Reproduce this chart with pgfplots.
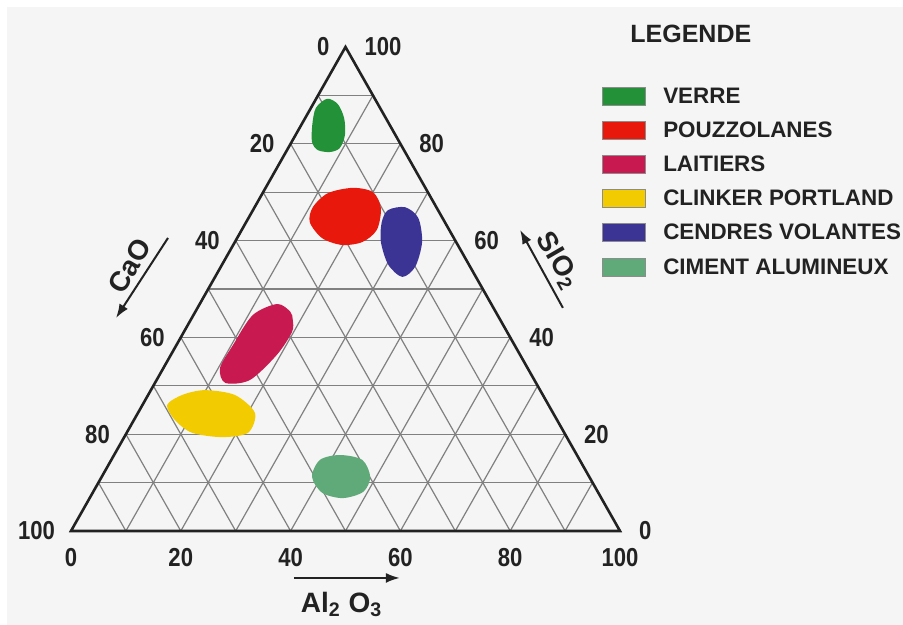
\documentclass[border=0pt]{standalone}
\usepackage{fontspec}
\setmainfont{Liberation Sans}
\newfontfamily\narrow[FakeStretch=0.85]{Liberation Sans}
\usepackage{pgfplots}
\pgfplotsset{compat=1.18}
\usetikzlibrary{arrows.meta}

\definecolor{verre}{HTML}{239138}
\definecolor{pouzz}{HTML}{E8180C}
\definecolor{laitier}{HTML}{C81A50}
\definecolor{clinker}{HTML}{F2CC00}
\definecolor{cendres}{HTML}{3C3494}
\definecolor{ciment}{HTML}{5FAA78}
\definecolor{bg}{HTML}{F5F5F5}
\definecolor{txt}{HTML}{222222}

\newcommand\lab{\bfseries\fontsize{11.2}{13}\selectfont}
\newcommand\ticklab{\narrow\bfseries\fontsize{13}{15}\selectfont}
\newcommand\biglab{\bfseries\fontsize{14}{16}\selectfont}

% blobs are given as (Al2O3, SiO2) in %, CaO = 100 - Al2O3 - SiO2
% plotted as x = Al2O3 + SiO2/2, y = SiO2
\pgfplotsset{
  swatch/.style={legend image code/.code={
    \filldraw[draw=black!45, line width=0.5pt] (0pt,-4.5pt) rectangle (21.5pt,4.5pt);}},
}
\tikzset{gridc/.style={draw=black!50, line width=0.6pt}}

\begin{document}
\begin{tikzpicture}
\begin{axis}[
  scale only axis, width=451.5pt, height=312.5pt,
  xmin=-12.93, xmax=151.55, ymin=-19.42, ymax=109.71,
  hide axis, clip=false,
  legend style={at={(axis cs:96.7,91.9)}, anchor=north west, draw=none, fill=none,
    font=\lab, text=txt, inner sep=0pt, row sep=7.6pt, column sep=8.5pt,
    nodes={inner sep=0pt, text height=8pt, text depth=1pt}},
  legend cell align=left,
]
\fill[white] (axis cs:-12.93,-19.42) rectangle (axis cs:151.55,109.71);
\fill[bg] (axis cs:-11.65,-19.42) rectangle (axis cs:151.55,108.26);

% grid
\pgfplotsinvokeforeach{10,20,...,90}{
  \draw[gridc] (axis cs:{#1/2},#1) -- (axis cs:{100-#1/2},#1);
  \draw[gridc] (axis cs:#1,0) -- (axis cs:{(100+#1)/2},{100-#1});
  \draw[gridc] (axis cs:#1,0) -- (axis cs:{#1/2},#1);
}

\addplot[fill=verre, draw=none, smooth cycle, swatch] table[x expr=\thisrow{Al2O3}+0.5*\thisrow{SiO2}, y=SiO2] {
Al2O3 SiO2
2.0 89.3
4.5 88.2
7.1 85.3
9.0 81.8
9.4 79.1
8.0 78.3
5.6 78.7
3.7 80.4
2.0 83.9
0.9 87.4
};
\addlegendentry{VERRE}

\addplot[fill=pouzz, draw=none, smooth cycle, swatch] table[x expr=\thisrow{Al2O3}+0.5*\thisrow{SiO2}, y=SiO2] {
Al2O3 SiO2
15.9 70.9
20.0 70.0
23.1 66.7
24.6 62.2
23.2 59.7
19.8 59.1
15.5 60.5
11.6 63.8
10.6 66.9
11.9 69.8
};
\addlegendentry{POUZZOLANES}

\addplot[fill=laitier, draw=none, smooth cycle, swatch] table[x expr=\thisrow{Al2O3}+0.5*\thisrow{SiO2}, y=SiO2] {
Al2O3 SiO2
17.3 45.3
14.1 46.9
10.8 44.6
10.3 38.4
10.3 33.7
12.8 30.6
17.0 31.2
19.3 36.4
19.7 41.1
18.6 43.6
};
\addlegendentry{LAITIERS}

\addplot[fill=clinker, draw=none, smooth cycle, swatch] table[x expr=\thisrow{Al2O3}+0.5*\thisrow{SiO2}, y=SiO2] {
Al2O3 SiO2
4.5 26.0
6.2 28.1
9.8 29.1
15.8 28.1
21.3 24.4
22.1 20.3
17.8 19.4
11.9 20.3
7.5 22.9
};
\addlegendentry{CLINKER PORTLAND}

\addplot[fill=cendres, draw=none, smooth cycle, swatch] table[x expr=\thisrow{Al2O3}+0.5*\thisrow{SiO2}, y=SiO2] {
Al2O3 SiO2
24.6 66.3
27.4 66.9
30.9 64.7
34.1 59.7
35.4 54.6
34.1 52.5
30.3 55.0
26.6 59.7
24.7 63.8
};
\addlegendentry{CENDRES VOLANTES}

\addplot[fill=ciment, draw=none, smooth cycle, swatch] table[x expr=\thisrow{Al2O3}+0.5*\thisrow{SiO2}, y=SiO2] {
Al2O3 SiO2
38.3 11.2
38.0 14.7
41.1 15.7
45.7 14.7
48.9 11.2
49.2 8.1
46.1 6.8
41.8 7.9
};
\addlegendentry{CIMENT ALUMINEUX}

% triangle
\draw[txt, line width=1.3pt, line join=miter] (axis cs:0,0) -- (axis cs:100,0) -- (axis cs:50,100) -- cycle;

% tick labels
\pgfplotsinvokeforeach{0,20,...,100}{
  \node[anchor=east, xshift=-4.5pt, font=\ticklab, text=txt] at (axis cs:{(100-#1)/2},{100-#1}) {#1};
  \node[anchor=west, xshift=6pt, font=\ticklab, text=txt] at (axis cs:{100-#1/2},#1) {#1};
  \node[anchor=north, yshift=-5pt, font=\ticklab, text=txt] at (axis cs:#1,0) {#1};
}

% axis names
\draw[txt, line width=1pt, -{Latex[length=7pt,width=5pt]}] (axis cs:40.6,-9.7) -- (axis cs:59.9,-9.7);
\node[font=\biglab, text=txt] at (axis cs:49.3,-15.2) {Al\textsubscript{2} O\textsubscript{3}};
\draw[txt, line width=1pt, -{Latex[length=7pt,width=5pt]}] (axis cs:17.67,60.54) -- (axis cs:8.2,44.0);
\node[font=\biglab, text=txt, rotate=60] at (axis cs:10.6,54.8) {CaO};
\draw[txt, line width=1pt, -{Latex[length=7pt,width=5pt]}] (axis cs:89.6,46.1) -- (axis cs:81.8,62.2);
\node[font=\biglab, text=txt, rotate=-60] at (axis cs:88.6,55.8) {SIO\textsubscript{2}};

\node[font=\bfseries\fontsize{12.5}{15}\selectfont, text=txt] at (axis cs:112.9,102.7) {LEGENDE};
\end{axis}
\end{tikzpicture}
\end{document}
